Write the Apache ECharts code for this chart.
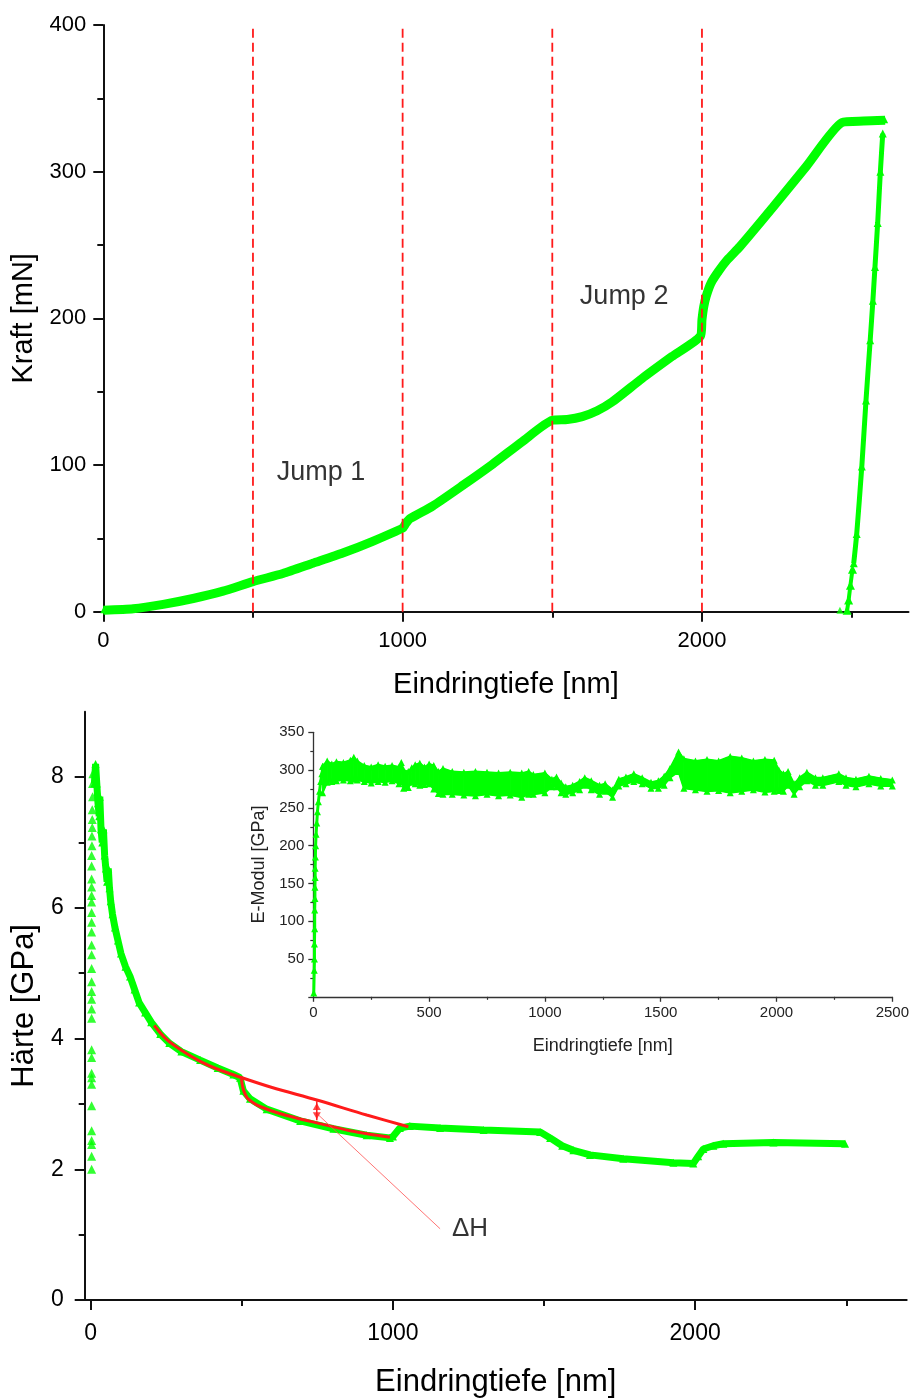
<!DOCTYPE html>
<html><head><meta charset="utf-8">
<script src="https://cdn.jsdelivr.net/npm/echarts@6/dist/echarts.min.js"></script>
<style>html,body{margin:0;padding:0;background:#fff}#c{width:912px;height:1399px}</style>
</head><body><div id="c"></div>
<script>
const FONT = '"Liberation Sans", Arial, Helvetica, sans-serif';
const GREEN = '#00ff00';
const RED = '#ff1a1a';

// ---------- Top panel: Kraft vs Eindringtiefe ----------
const loadDepth = [0,100,200,300,400,500,600,700,800,900,1000,1010,1025,1100,1200,1300,1400,1500,1550,1600,1650,1700,1800,1900,1995,2000,2006,2014,2030,2055,2085,2127,2238,2350,2468,2540,2612];
const loadForce = [1,2,5,9,14,20.5,26,33,40,48,57,60,63.5,72,86,100.5,116,130.5,131,133,137,143,159,174,188,199,208,215,224,232,240,249,276,304,333.5,334.5,335];
const unloadDepth = [2604,2596,2587,2578,2571,2562,2548,2534,2517,2507];
const unloadForce = [326,300,265,235,212,185,144,99,53,33];
const unloadTailDepth = [2503,2496,2490,2485];
const unloadTailForce = [29,18,8,1];
const strayDepth = [2461];
const strayForce = [1];
const jumpDepths = [500,1000,1500,2000];
const noteLabels = ['Jump 1','Jump 2'];
const noteDepth = [727,1740];
const noteForce = [95,215];
const topXMajor = [0,1000,2000];
const topXMinor = [500,1500,2500];

// ---------- Bottom panel: Härte vs Eindringtiefe ----------
const hColDepth = [3,3,3,3,3,3,3,3,3,3,3,3,3,3,3,3,3,3,3,3,3,3,3,3,3,3,3,3,4,4,5,5,5,6,6,7];
const hColVal   = [2.0,2.2,2.38,2.44,2.59,2.97,3.3,3.4,3.47,3.71,3.83,4.31,4.45,4.6,4.72,4.87,5.07,5.28,5.43,5.63,5.78,5.93,6.09,6.19,6.32,6.44,6.64,6.8,6.95,7.1,7.23,7.35,7.5,7.7,7.9,8.05];
const hDepth = [12,16,20,24,28,30,34,38,42,46,50,54,58,62,66,72,80,90,100,115,130,145,160,180,200,230,260,300,362,420,472,494,505,527,582,693,803,913,990,1000,1023,1056,1156,1300,1487,1520,1560,1597,1652,1762,1928,1994,2010,2027,2060,2093,2259,2496];
const hVal   = [7.9,8.2,7.9,7.6,7.4,7.7,7.2,7.0,7.2,6.8,6.6,6.4,6.6,6.3,6.1,5.9,5.7,5.5,5.3,5.1,4.95,4.75,4.55,4.4,4.25,4.07,3.93,3.8,3.67,3.55,3.45,3.40,3.2,3.08,2.92,2.74,2.62,2.52,2.48,2.5,2.63,2.66,2.63,2.6,2.57,2.48,2.36,2.29,2.22,2.16,2.10,2.09,2.2,2.31,2.36,2.39,2.41,2.39];
const fitUpperDepth = [210,250,300,362,420,500,600,748,913,1051];
const fitUpperVal   = [4.2,3.99,3.82,3.65,3.53,3.40,3.25,3.06,2.83,2.65];
const fitLowerDepth = [499,502,508,518,540,560,620,693,748,858,990];
const fitLowerVal   = [3.38,3.28,3.18,3.09,3.01,2.96,2.86,2.77,2.71,2.59,2.49];
const dHDepth = [748,748];
const dHVal = [2.75,3.04];
const dHHeads = [2.96,2.82];
const leaderDepth = [749,1156];
const leaderVal = [2.85,1.09];
const dHLabelDepth = [1195];
const dHLabelVal = [1.09];
const botYMajor = [0,2,4,6,8];
const botYMinor = [1,3,5,7];
const botXMajor = [0,1000,2000];
const botXMinor = [500,1500,2500];

// ---------- Inset: E-Modul vs Eindringtiefe ----------
const modRiseDepth = [2,4,5,5,6,6,7,7,8,8,9,10,12,15,18,22,27,32,37,42];
const modRiseVal   = [5,35,50,70,90,115,130,145,158,170,185,200,215,230,245,258,272,285,295,305];
const modEnvDepth = [40,60,80,100,130,160,175,190,220,250,280,310,340,370,380,390,410,425,440,460,480,500,520,540,560,600,650,700,750,800,850,900,930,950,1000,1030,1050,1070,1090,1120,1150,1172,1200,1236,1260,1292,1319,1350,1384,1420,1458,1490,1515,1540,1577,1600,1650,1700,1750,1800,1850,1900,1950,1990,2010,2030,2050,2076,2100,2131,2168,2200,2269,2300,2343,2399,2450,2500];
const modUpper = [305,312,308,311,310,313,317,312,306,304,307,305,306,304,310,300,298,303,307,309,304,308,306,298,302,298,297,298,297,296,297,296,298,294,296,288,291,283,278,280,285,290,286,280,282,274,288,291,295,290,284,286,292,302,324,315,312,314,312,318,316,312,314,313,300,295,298,282,290,297,290,290,295,290,288,292,289,287];
const modLower = [270,284,285,286,287,286,288,287,285,283,285,284,286,282,285,276,277,284,282,280,281,282,275,269,268,268,267,266,268,266,267,264,268,268,270,278,278,270,268,270,274,280,274,268,272,264,279,282,285,282,276,276,280,290,298,276,274,272,273,270,272,274,271,272,273,272,280,268,278,286,280,280,285,280,278,282,279,279];

const pairs = (xs, ys) => xs.map((x, i) => [x, ys[i]]);
const txt = (size, color) => ({ fontSize: size, color: color || '#000', fontFamily: FONT });
const plain = v => String(v);

function mainAxis(o) {
  return Object.assign({
    type: 'value', splitLine: { show: false },
    axisLine: { show: true, onZero: false, lineStyle: { color: '#111', width: 2 } },
  }, o);
}
function minorAxis(o) {
  return Object.assign({
    type: 'value', splitLine: { show: false },
    axisLine: { show: false, onZero: false },
    axisLabel: { show: false },
  }, o);
}
const tick = (vals, len) => ({ show: true, length: len, customValues: vals, lineStyle: { color: '#111', width: 2 } });

// band polygon segments between lower and upper envelope, drawn through the axis scales
function bandRender(params, api) {
  const i = params.dataIndex;
  if (i >= modEnvDepth.length - 1) return null;
  const pts = [
    api.coord([modEnvDepth[i], modLower[i]]),
    api.coord([modEnvDepth[i + 1], modLower[i + 1]]),
    api.coord([modEnvDepth[i + 1], modUpper[i + 1]]),
    api.coord([modEnvDepth[i], modUpper[i]])
  ];
  return { type: 'polygon', shape: { points: pts }, style: { fill: GREEN, stroke: GREEN, lineWidth: 1 } };
}

const option = {
  animation: false,
  backgroundColor: '#fff',
  grid: [
    { left: 103.3, top: 25, width: 805.2, height: 586.7 },
    { left: 84.7, top: 711.7, width: 822, height: 592.3 },
    { left: 313.3, top: 732.3, width: 580, height: 264.5 }
  ],
  xAxis: [
    mainAxis({ gridIndex: 0, position: 'bottom', min: 0, max: 2690,
      axisTick: tick(topXMajor, 10),
      axisLabel: { customValues: topXMajor, formatter: plain, margin: 18, ...txt(22) },
      name: 'Eindringtiefe [nm]', nameLocation: 'middle', nameGap: 59, nameTextStyle: txt(29) }),
    minorAxis({ gridIndex: 0, position: 'bottom', min: 0, max: 2690, axisTick: tick(topXMinor, 6) }),
    mainAxis({ gridIndex: 1, position: 'bottom', min: -20, max: 2700,
      axisTick: tick(botXMajor, 10),
      axisLabel: { customValues: botXMajor, formatter: plain, margin: 22, ...txt(23) },
      name: 'Eindringtiefe [nm]', nameLocation: 'middle', nameGap: 67, nameTextStyle: txt(31) }),
    minorAxis({ gridIndex: 1, position: 'bottom', min: -20, max: 2700, axisTick: tick(botXMinor, 6) }),
    { gridIndex: 2, type: 'value', position: 'bottom', min: 0, max: 2500, interval: 500, splitLine: { show: false },
      axisLine: { onZero: false, lineStyle: { color: '#333', width: 1.3 } },
      axisTick: { length: 5, lineStyle: { color: '#333', width: 1.3 } },
      minorTick: { show: true, splitNumber: 2, length: 3, lineStyle: { color: '#333', width: 1.2 } },
      axisLabel: { formatter: plain, margin: 9, ...txt(15, '#222') },
      name: 'Eindringtiefe [nm]', nameLocation: 'middle', nameGap: 40, nameTextStyle: txt(18, '#222') }
  ],
  yAxis: [
    mainAxis({ gridIndex: 0, position: 'left', min: 0, max: 400, interval: 100,
      axisTick: { show: true, length: 10, lineStyle: { color: '#111', width: 2 } },
      minorTick: { show: true, splitNumber: 2, length: 6, lineStyle: { color: '#111', width: 2 } },
      axisLabel: { formatter: plain, margin: 17, ...txt(22) },
      name: 'Kraft [mN]', nameLocation: 'middle', nameGap: 57, nameTextStyle: txt(29) }),
    mainAxis({ gridIndex: 1, position: 'left', min: 0, max: 9,
      axisTick: tick(botYMajor, 10),
      axisLabel: { customValues: botYMajor, formatter: plain, margin: 21, ...txt(23) },
      name: 'Härte [GPa]', nameLocation: 'middle', nameGap: 33, nameTextStyle: txt(31) }),
    minorAxis({ gridIndex: 1, position: 'left', min: 0, max: 9, axisTick: tick(botYMinor, 6) }),
    { gridIndex: 2, type: 'value', position: 'left', min: 0, max: 350, interval: 50, splitLine: { show: false },
      axisLine: { onZero: false, lineStyle: { color: '#333', width: 1.3 } },
      axisTick: { length: 5, lineStyle: { color: '#333', width: 1.3 } },
      minorTick: { show: true, splitNumber: 2, length: 3, lineStyle: { color: '#333', width: 1.2 } },
      axisLabel: { showMinLabel: false, margin: 9, ...txt(15, '#222') },
      name: 'E-Modul [GPa]', nameLocation: 'middle', nameGap: 38, nameTextStyle: txt(18, '#222') }
  ],
  series: [
    // top panel
    { type: 'line', xAxisIndex: 0, yAxisIndex: 0, data: pairs(loadDepth, loadForce),
      smooth: 0.2,
      symbol: 'triangle', symbolSize: 6, showSymbol: true, itemStyle: { color: GREEN },
      lineStyle: { color: GREEN, width: 9 }, z: 2 },
    { type: 'line', xAxisIndex: 0, yAxisIndex: 0, data: pairs(unloadDepth, unloadForce), smooth: 0.2,
      symbol: 'triangle', symbolSize: 8, itemStyle: { color: GREEN },
      lineStyle: { color: GREEN, width: 5 }, z: 2 },
    { type: 'line', xAxisIndex: 0, yAxisIndex: 0, data: pairs(unloadTailDepth, unloadTailForce),
      symbol: 'triangle', symbolSize: 9, itemStyle: { color: GREEN },
      lineStyle: { color: GREEN, width: 4 }, z: 2 },
    { type: 'scatter', xAxisIndex: 0, yAxisIndex: 0, data: pairs(strayDepth, strayForce),
      symbol: 'triangle', symbolSize: 7, itemStyle: { color: GREEN }, z: 2 },
    ...jumpDepths.map(d => ({ type: 'line', xAxisIndex: 0, yAxisIndex: 0, data: [[d, 0], [d, 400]],
      symbol: 'none', lineStyle: { color: RED, width: 1.8, type: [9, 5] }, z: 5 })),
    { type: 'scatter', xAxisIndex: 0, yAxisIndex: 0, symbolSize: 0,
      data: noteLabels.map((n, i) => ({ name: n, value: [noteDepth[i], noteForce[i]] })),
      label: { show: true, position: 'inside', formatter: p => p.name, textBorderWidth: 0, ...txt(27, '#000') }, z: 6 },

    // bottom panel
    { type: 'scatter', xAxisIndex: 2, yAxisIndex: 1, data: pairs(hColDepth, hColVal),
      symbol: 'triangle', symbolSize: 9, itemStyle: { color: GREEN }, z: 2 },
    { type: 'line', xAxisIndex: 2, yAxisIndex: 1, data: pairs(hDepth, hVal),
      symbol: 'triangle', symbolSize: 8, showSymbol: true, itemStyle: { color: GREEN },
      lineStyle: { color: GREEN, width: 7 }, z: 2 },
    { type: 'line', xAxisIndex: 2, yAxisIndex: 1, data: pairs(fitUpperDepth, fitUpperVal), smooth: 0.3,
      symbol: 'none', lineStyle: { color: RED, width: 3 }, z: 4 },
    { type: 'line', xAxisIndex: 2, yAxisIndex: 1, data: pairs(fitLowerDepth, fitLowerVal), smooth: 0.3,
      symbol: 'none', lineStyle: { color: RED, width: 3 }, z: 4 },
    { type: 'line', xAxisIndex: 2, yAxisIndex: 1, data: pairs(dHDepth, dHVal),
      symbol: 'none', lineStyle: { color: RED, width: 1.5 }, z: 4 },
    { type: 'scatter', xAxisIndex: 2, yAxisIndex: 1,
      data: [{ value: [dHDepth[0], dHHeads[0]] }, { value: [dHDepth[1], dHHeads[1]], symbolRotate: 180 }],
      symbol: 'triangle', symbolSize: [8, 7], itemStyle: { color: RED }, z: 4 },
    { type: 'line', xAxisIndex: 2, yAxisIndex: 1, data: pairs(leaderDepth, leaderVal),
      symbol: 'none', lineStyle: { color: '#ff5050', width: 0.8 }, z: 4 },
    { type: 'scatter', xAxisIndex: 2, yAxisIndex: 1, symbolSize: 0,
      data: [{ name: 'ΔH', value: [dHLabelDepth[0], dHLabelVal[0]] }],
      label: { show: true, position: 'right', distance: 0, formatter: p => p.name, ...txt(26, '#000') }, z: 6 },

    // inset
    { type: 'line', xAxisIndex: 4, yAxisIndex: 3, data: pairs(modRiseDepth, modRiseVal),
      symbol: 'triangle', symbolSize: 7, showSymbol: true, itemStyle: { color: GREEN },
      lineStyle: { color: GREEN, width: 3 }, z: 2 },
    { type: 'custom', xAxisIndex: 4, yAxisIndex: 3, renderItem: bandRender, clip: true,
      data: modEnvDepth.map((d, i) => [d, modLower[i], modUpper[i]]),
      encode: { x: 0, y: [1, 2] }, z: 1 },
    { type: 'line', xAxisIndex: 4, yAxisIndex: 3, data: pairs(modEnvDepth, modUpper),
      symbol: 'triangle', symbolSize: 7, showSymbol: true, itemStyle: { color: GREEN },
      lineStyle: { color: GREEN, width: 2 }, z: 2 },
    { type: 'line', xAxisIndex: 4, yAxisIndex: 3, data: pairs(modEnvDepth, modLower),
      symbol: 'triangle', symbolSize: 7, showSymbol: true, itemStyle: { color: GREEN },
      lineStyle: { color: GREEN, width: 2 }, z: 2 }
  ]
};
const chart = echarts.init(document.getElementById('c'), null, { renderer: 'canvas' });
chart.setOption(option);
</script></body></html>
